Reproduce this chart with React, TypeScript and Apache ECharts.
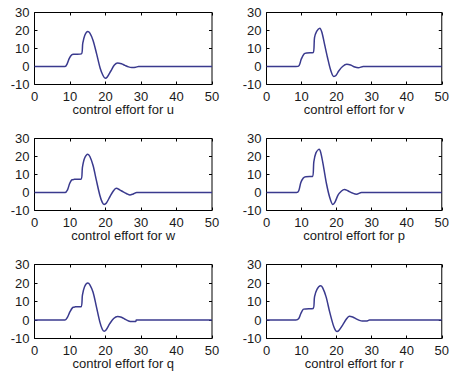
import React, { useEffect, useRef } from "react";
import * as echarts from "echarts";

const panelNames = ["u", "v", "w", "p", "q", "r"];
const xTicks = [0, 10, 20, 30, 40, 50];
const yTicks = [-10, 0, 10, 20, 30];

const tU = [0, 8.6, 9.2, 9.8, 10.5, 11, 13.2, 13.6, 14.2, 15, 15.6, 16.5, 17.5, 18.5, 19.3, 19.9, 20.5, 21.5, 22.5, 23.4, 24.5, 25.5, 26.5, 27.4, 28.5, 29.3, 50];
const yU = [0, 0, 1.5, 4.5, 6.5, 6.8, 7, 13, 17.5, 19.5, 18.5, 14.5, 7, -1, -5, -6.5, -5.8, -2.5, 0.8, 2, 1.5, 0.6, -0.2, -0.5, -0.4, 0, 0];

const tV = [0, 8.4, 9.3, 9.9, 10.7, 11.5, 13.3, 13.7, 14.3, 15.2, 15.8, 16.6, 17.4, 18.3, 19.2, 19.8, 20.6, 21.7, 22.9, 24, 25.2, 26.2, 27.6, 50];
const yV = [0, 0, 0.5, 4, 7, 7.5, 7.7, 16, 19.5, 21.3, 19, 12, 5, -2, -5.5, -5, -2.5, 0, 1.2, 0.8, -0.3, -0.7, 0, 0];

const tW = [0, 8.6, 9.3, 9.9, 10.5, 11.2, 13.1, 13.5, 14.1, 15, 15.6, 16.5, 17.4, 18.4, 19.1, 19.6, 20.2, 21.2, 22.2, 23, 24, 25, 26, 26.9, 27.8, 28.8, 50];
const yW = [0, 0, 1.5, 5, 7, 7.3, 7.4, 14, 19, 21.3, 20, 15, 7, -1.5, -5.5, -6.6, -6, -2.5, 0.8, 2.3, 1.5, 0.3, -0.7, -1.4, -0.8, 0, 0];

const tP = [0, 8.6, 9.2, 9.8, 10.5, 11.2, 13.1, 13.5, 14.1, 15, 15.5, 16.3, 17.1, 18, 18.9, 19.5, 20.4, 21.4, 22.2, 23.2, 24.5, 25.7, 27.1, 50];
const yP = [0, 0, 1, 5.5, 8, 8.8, 8.9, 17, 22, 24, 22, 14, 5, -2.5, -6.6, -5.5, -1.5, 0.8, 1.7, 1, -0.3, -1, 0, 0];

const tQ = [0, 8.6, 9.3, 10, 10.8, 11.5, 13.1, 13.5, 14.1, 15, 15.6, 16.5, 17.4, 18.4, 19.1, 19.6, 20.2, 21.2, 22.3, 23.4, 24.5, 25.5, 26.5, 27.4, 28.5, 28.7, 50];
const yQ = [0, 0, 1.5, 4.5, 6.8, 7.1, 7.2, 13.5, 18, 20, 19, 15, 7.5, -1, -5, -6.1, -5.3, -2, 0.8, 1.9, 1.5, 0.4, -0.5, -0.8, -0.8, 0, 0];

const tR = [0, 8.4, 9.2, 9.8, 10.5, 11.2, 13.3, 13.7, 14.4, 15.4, 16, 17, 18, 19, 19.6, 20.1, 20.7, 21.8, 22.8, 23.6, 24.6, 25.6, 26.5, 27.3, 28.5, 29.4, 50];
const yR = [0, 0, 0.8, 3.5, 5.8, 6, 6.2, 12.5, 16.5, 18.5, 17.5, 12.5, 4.5, -2.5, -5.3, -6.2, -5.5, -2.5, 0.5, 2, 1.6, 0.6, -0.2, -0.6, -0.6, 0, 0];

const times = [tU, tV, tW, tP, tQ, tR];
const values = [yU, yV, yW, yP, yQ, yR];

const FONT = "'Liberation Sans', Arial, sans-serif";
const TEXT = "#1a1a1a";
const LINE = "#3a3a8e";

export default function App() {
  const ref = useRef<HTMLDivElement>(null);
  useEffect(() => {
    if (!ref.current) return;
    const chart = echarts.init(ref.current, undefined, { renderer: "svg" });
    const lefts = [34.5, 266.5];
    const tops = [12.5, 138.5, 264.5];
    const heights = [72, 72, 74];
    const grids: any[] = [];
    const xAxes: any[] = [];
    const yAxes: any[] = [];
    const series: any[] = [];
    panelNames.forEach((name, i) => {
      const col = i % 2;
      const row = Math.floor(i / 2);
      grids.push({
        left: lefts[col],
        top: tops[row],
        width: 177.5,
        height: heights[row],
        show: true,
        borderColor: "#000",
        borderWidth: 1,
        backgroundColor: "#fff",
      });
      const xBase = {
        type: "value",
        gridIndex: i,
        min: xTicks[0],
        max: xTicks[xTicks.length - 1],
        interval: 10,
        splitLine: { show: false },
        axisLine: { show: false, onZero: false },
        axisTick: { show: true, inside: true, length: 3, lineStyle: { color: "#000" } },
      };
      xAxes.push({
        ...xBase,
        position: "bottom",
        name: "control effort for " + name,
        nameLocation: "middle",
        nameGap: 12,
        nameTextStyle: { color: TEXT, fontFamily: FONT, fontSize: 13 },
        axisLabel: { color: TEXT, fontFamily: FONT, fontSize: 13, margin: 5 },
      });
      xAxes.push({ ...xBase, position: "top", axisLabel: { show: false } });
      const yBase = {
        type: "value",
        gridIndex: i,
        min: yTicks[0],
        max: yTicks[yTicks.length - 1],
        interval: 10,
        splitLine: { show: false },
        axisLine: { show: false, onZero: false },
        axisTick: { show: true, inside: true, length: 3, lineStyle: { color: "#000" } },
      };
      yAxes.push({
        ...yBase,
        position: "left",
        axisLabel: { color: TEXT, fontFamily: FONT, fontSize: 13, margin: 5 },
      });
      yAxes.push({ ...yBase, position: "right", axisLabel: { show: false } });
      series.push({
        type: "line",
        xAxisIndex: 2 * i,
        yAxisIndex: 2 * i,
        data: times[i].map((t, k) => [t, values[i][k]]),
        showSymbol: false,
        smooth: 0.3,
        lineStyle: { color: LINE, width: 1.5 },
      });
    });
    chart.setOption({
      animation: false,
      backgroundColor: "#fff",
      grid: grids,
      xAxis: xAxes,
      yAxis: yAxes,
      series,
    });
    return () => chart.dispose();
  }, []);
  return (
    <div
      ref={ref}
      style={{ position: "fixed", left: 0, top: 0, width: 452, height: 379, background: "#fff" }}
    />
  );
}
